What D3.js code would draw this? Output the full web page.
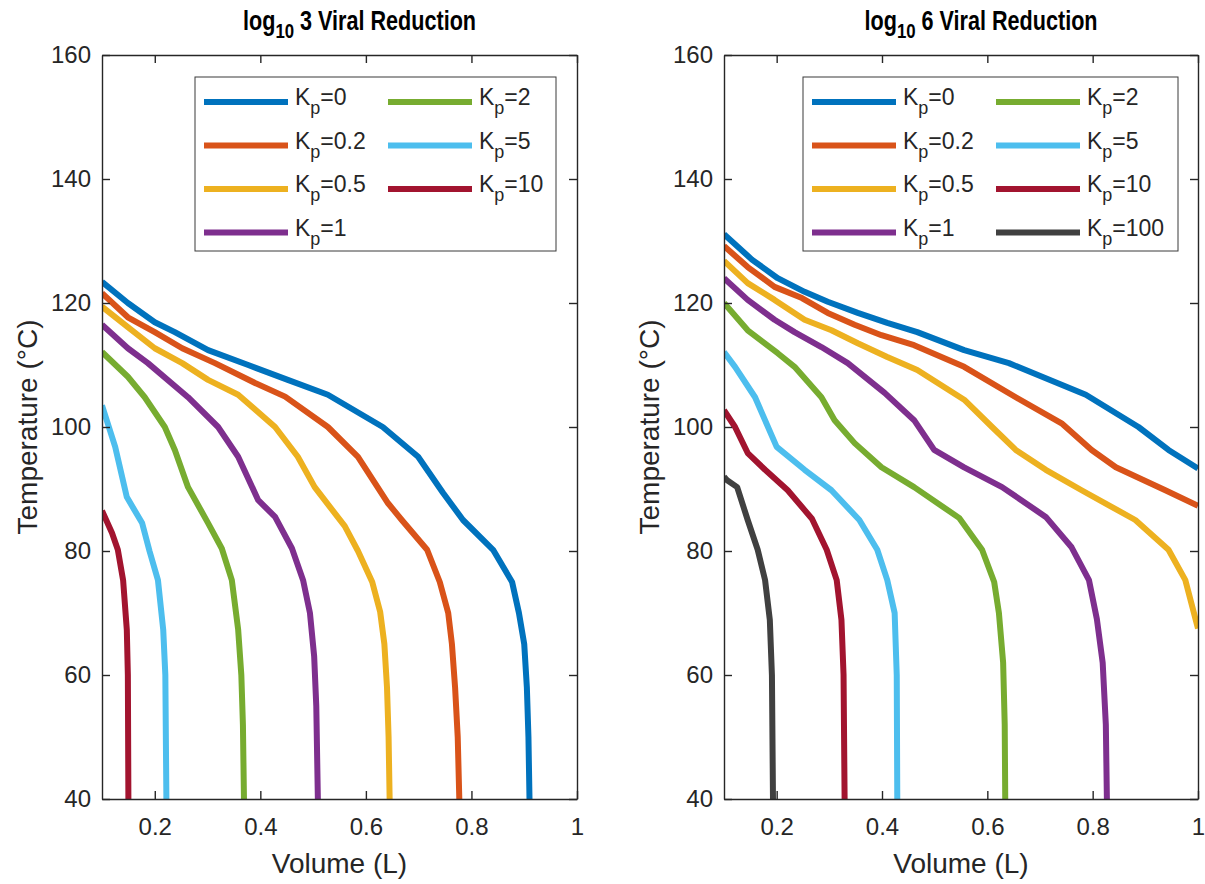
<!DOCTYPE html>
<html>
<head>
<meta charset="utf-8">
<script src="https://cdn.jsdelivr.net/npm/d3@7"></script>
<style>
  body { margin: 0; background: #fff; }
  svg { font-family: "Liberation Sans", Arial, Helvetica, sans-serif; }
</style>
</head>
<body>
<svg id="chart" width="1205" height="884"></svg>
<script>
// series labels and colours (MATLAB default order)
const kpLabels = ["0", "0.2", "0.5", "1", "2", "5", "10", "100"];
const colors = ["#0072BD", "#D95319", "#EDB120", "#7E2F8E", "#77AC30", "#4DBEEE", "#A2142F", "#404040"];

const xTicks = [0.2, 0.4, 0.6, 0.8, 1];
const yTicks = [40, 60, 80, 100, 120, 140, 160];

// log10 3 reduction: [volume (L), temperature (°C)]
const l3_kp0 = [[0.1,123.4],[0.149,120],[0.2,116.9],[0.238,115.3],[0.301,112.4],[0.377,110],[0.452,107.6],[0.528,105.2],[0.632,100],[0.699,95.2],[0.746,89.4],[0.784,85],[0.841,80.2],[0.877,75],[0.890,70],[0.900,65],[0.905,58],[0.908,50],[0.910,40]];
const l3_kp02 = [[0.1,121.6],[0.149,117.7],[0.2,115.3],[0.252,112.7],[0.314,110.3],[0.39,107.1],[0.447,104.9],[0.528,100],[0.585,95.2],[0.642,87.7],[0.668,85],[0.716,80.2],[0.740,75],[0.756,70],[0.763,65],[0.769,58],[0.774,50],[0.777,40]];
const l3_kp05 = [[0.1,119.4],[0.149,116.1],[0.2,112.7],[0.252,110.3],[0.301,107.6],[0.358,105.2],[0.428,100],[0.471,95.2],[0.503,90.3],[0.56,84],[0.585,80],[0.612,75],[0.627,70.2],[0.635,65],[0.640,58],[0.643,50],[0.645,40]];
const l3_kp1 = [[0.1,116.5],[0.149,112.7],[0.187,110.3],[0.263,104.8],[0.320,100],[0.358,95.2],[0.396,88.2],[0.428,85.5],[0.460,80.4],[0.481,75.3],[0.494,70],[0.502,63],[0.506,55],[0.509,40]];
const l3_kp2 = [[0.1,112.1],[0.149,108.1],[0.181,104.8],[0.219,100],[0.238,96.3],[0.263,90.3],[0.301,84.5],[0.327,80.4],[0.346,75.3],[0.358,67.3],[0.364,60],[0.367,52],[0.369,40]];
const l3_kp5 = [[0.1,103.5],[0.125,96.8],[0.147,88.7],[0.176,84.5],[0.19,80],[0.206,75.3],[0.216,67.3],[0.220,60],[0.222,40]];
const l3_kp10 = [[0.1,86.5],[0.119,82.9],[0.130,80.2],[0.140,75.3],[0.147,67.3],[0.149,60],[0.150,40]];

// log10 6 reduction
const l6_kp0 = [[0.1,131.1],[0.153,127],[0.202,124],[0.253,121.8],[0.297,120.2],[0.354,118.4],[0.41,116.8],[0.467,115.3],[0.556,112.4],[0.641,110.3],[0.787,105.2],[0.887,100],[0.944,96.3],[1.0,93.3]];
const l6_kp02 = [[0.1,129.2],[0.145,125.8],[0.196,122.6],[0.248,120.8],[0.297,118.4],[0.348,116.5],[0.399,114.8],[0.461,113.2],[0.556,109.7],[0.654,104.8],[0.741,100.6],[0.798,96.3],[0.844,93.5],[0.938,89.8],[1.0,87.3]];
const l6_kp05 = [[0.1,126.8],[0.145,123.2],[0.196,120.5],[0.253,117.3],[0.304,115.6],[0.354,113.5],[0.41,111.3],[0.467,109.2],[0.556,104.4],[0.609,100],[0.654,96.3],[0.711,93.1],[0.779,89.8],[0.881,85],[0.944,80.2],[0.976,75.3],[1.0,67.5]];
const l6_kp1 = [[0.1,124],[0.145,120.5],[0.196,117.3],[0.234,115.3],[0.285,112.9],[0.335,110.3],[0.405,105.5],[0.461,101.1],[0.499,96.3],[0.556,93.5],[0.628,90.3],[0.711,85.5],[0.760,80.6],[0.793,75.3],[0.808,69],[0.819,62],[0.825,52],[0.827,40]];
const l6_kp2 = [[0.1,120],[0.145,115.6],[0.202,111.9],[0.234,109.7],[0.285,104.8],[0.310,101.1],[0.348,97.4],[0.399,93.5],[0.461,90.3],[0.547,85.3],[0.590,80.2],[0.613,75],[0.622,70],[0.630,62],[0.633,52],[0.634,40]];
const l6_kp5 = [[0.1,112.1],[0.121,109.7],[0.159,104.8],[0.2,96.8],[0.253,93.1],[0.304,89.8],[0.357,85],[0.391,80.2],[0.41,75.3],[0.424,70],[0.428,60],[0.429,40]];
const l6_kp10 = [[0.1,102.7],[0.121,100],[0.145,95.8],[0.178,93.1],[0.221,89.8],[0.267,85.2],[0.295,80.2],[0.314,75.3],[0.323,68.9],[0.327,60],[0.329,40]];
const l6_kp100 = [[0.1,92],[0.106,91.4],[0.125,90.3],[0.145,85],[0.164,80.2],[0.178,75.3],[0.187,68.9],[0.191,60],[0.193,40]];

const svg = d3.select("#chart");
const axisColor = "#262626";

function drawPanel(id, left, width, logLabel, seriesList, legendX, legendWidth) {
    const top = 55, height = 744;
    const g = svg.append("g").attr("transform", `translate(${left},${top})`);

    const x = d3.scaleLinear().domain([0.1, 1]).range([0, width]);
    const y = d3.scaleLinear().domain([40, 160]).range([height, 0]);

    g.append("clipPath").attr("id", "clip" + id)
        .append("rect").attr("width", width).attr("height", height);

    // curves
    const line = d3.line().x(d => x(d[0])).y(d => y(d[1]));
    g.append("g").attr("clip-path", `url(#clip${id})`)
        .selectAll("path").data(seriesList).join("path")
        .attr("d", d => line(d))
        .attr("fill", "none")
        .attr("stroke", (d, i) => colors[i])
        .attr("stroke-width", 6)
        .attr("stroke-linejoin", "round");

    // axes (ticks pointing inwards, box on)
    const styleAxis = sel => {
        sel.select(".domain").attr("stroke", axisColor).attr("stroke-width", 1.4);
        sel.selectAll(".tick line").attr("stroke", axisColor).attr("stroke-width", 1.4);
        sel.selectAll("text").attr("fill", axisColor).style("font-size", "24px");
    };
    g.append("g").attr("transform", `translate(0,${height})`)
        .call(d3.axisBottom(x).tickValues(xTicks).tickFormat(d3.format("~g"))
            .tickSizeInner(-8).tickSizeOuter(0).tickPadding(19))
        .call(styleAxis);
    g.append("g")
        .call(d3.axisTop(x).tickValues(xTicks).tickFormat("")
            .tickSizeInner(-8).tickSizeOuter(0))
        .call(styleAxis);
    g.append("g")
        .call(d3.axisLeft(y).tickValues(yTicks)
            .tickSizeInner(-8).tickSizeOuter(0).tickPadding(11))
        .call(styleAxis);
    g.append("g").attr("transform", `translate(${width},0)`)
        .call(d3.axisRight(y).tickValues(yTicks).tickFormat("")
            .tickSizeInner(-8).tickSizeOuter(0))
        .call(styleAxis);

    // axis labels
    g.append("text")
        .attr("x", width / 2).attr("y", height + 74)
        .attr("text-anchor", "middle").attr("fill", axisColor)
        .style("font-size", "28px")
        .text("Volume (L)");
    g.append("text")
        .attr("transform", `translate(${-65},${height / 2}) rotate(-90)`)
        .attr("text-anchor", "middle").attr("fill", axisColor)
        .style("font-size", "28px")
        .text("Temperature (°C)");

    // title with subscript (condensed bold)
    const title = g.append("text")
        .attr("transform", `translate(${width / 2 + 20},-25) scale(0.8,1)`)
        .attr("text-anchor", "middle").attr("fill", "#000")
        .style("font-size", "27px").style("font-weight", "bold");
    title.append("tspan").text("log");
    title.append("tspan").attr("dy", 8).style("font-size", "21px").text("10");
    title.append("tspan").attr("dy", -8).text(" " + logLabel + " Viral Reduction");

    // legend
    const lg = g.append("g").attr("transform", `translate(${legendX - left},${77 - top})`);
    lg.append("rect")
        .attr("width", legendWidth).attr("height", 174)
        .attr("fill", "#fff").attr("stroke", "#3a3a3a").attr("stroke-width", 1);
    seriesList.forEach((s, i) => {
        const col = i < 4 ? 0 : 1;
        const row = i % 4;
        const ly = 25 + row * 43.5;
        const lx = 9 + col * 184;
        lg.append("line")
            .attr("x1", lx).attr("x2", lx + 84)
            .attr("y1", ly).attr("y2", ly)
            .attr("stroke", colors[i]).attr("stroke-width", 6);
        const t = lg.append("text")
            .attr("x", lx + 91).attr("y", ly + 3)
            .attr("fill", axisColor).style("font-size", "23px");
        t.append("tspan").text("K");
        t.append("tspan").attr("dy", 9).style("font-size", "18px").text("p");
        t.append("tspan").attr("dy", -9).text("=" + kpLabels[i]);
    });
}

drawPanel("a", 102, 475, "3", [l3_kp0, l3_kp02, l3_kp05, l3_kp1, l3_kp2, l3_kp5, l3_kp10], 195, 361);
drawPanel("b", 724, 474, "6", [l6_kp0, l6_kp02, l6_kp05, l6_kp1, l6_kp2, l6_kp5, l6_kp10, l6_kp100], 803, 375);
</script>
</body>
</html>
